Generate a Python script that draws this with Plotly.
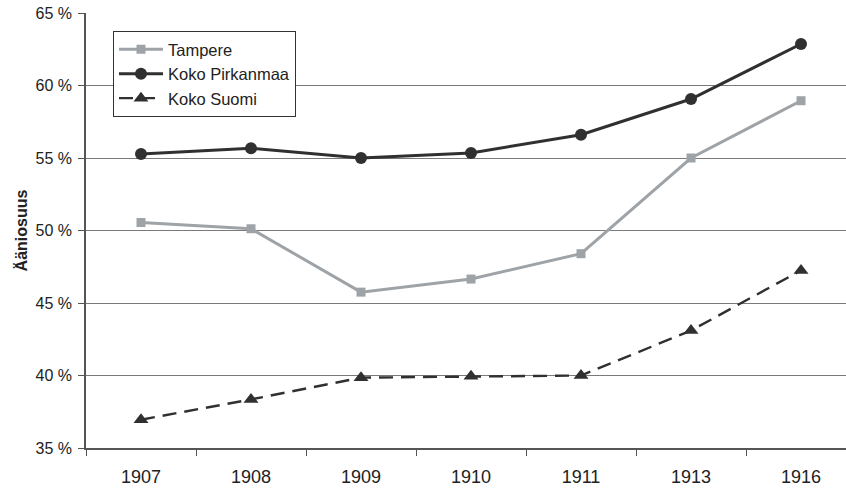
import plotly.graph_objects as go

years = ["1907", "1908", "1909", "1910", "1911", "1913", "1916"]
tampere = [50.55, 50.12, 45.75, 46.65, 48.4, 55.0, 58.95]
pirkanmaa = [55.28, 55.68, 55.0, 55.35, 56.6, 59.07, 62.86]
suomi = [36.95, 38.35, 39.85, 39.95, 40.0, 43.1, 47.25]
y_ticks = [35, 40, 45, 50, 55, 60, 65]
y_ticktext = [f"{v} %" for v in y_ticks]

FONT = "Liberation Sans, Arial, sans-serif"

fig = go.Figure()
fig.add_trace(go.Scatter(
    x=years, y=tampere, name="Tampere", mode="lines+markers",
    line=dict(color="#9ea3a8", width=3),
    marker=dict(symbol="square", size=9, color="#9ea3a8"),
))
fig.add_trace(go.Scatter(
    x=years, y=pirkanmaa, name="Koko Pirkanmaa", mode="lines+markers",
    line=dict(color="#303030", width=3),
    marker=dict(symbol="circle", size=12, color="#303030"),
))
fig.add_trace(go.Scatter(
    x=years, y=suomi, name="Koko Suomi", mode="lines+markers",
    line=dict(color="#303030", width=2.4, dash="14px,8px"),
    marker=dict(symbol="triangle-up", size=13, color="#303030"),
))

fig.update_layout(
    width=846, height=492,
    margin=dict(l=86, r=0, t=13, b=44, autoexpand=False),
    paper_bgcolor="white", plot_bgcolor="white",
    font=dict(family=FONT, size=16, color="#222222"),
    showlegend=True,
    legend=dict(
        x=0.0355, y=0.9586, xanchor="left", yanchor="top",
        bordercolor="#333333", borderwidth=1, bgcolor="white",
        font=dict(family=FONT, size=16.5, color="#222222"),
        itemwidth=44, tracegroupgap=0,
    ),
)
fig.update_xaxes(
    type="category", categoryorder="array", categoryarray=years,
    range=[-0.5, 6.409], automargin=False,
    showgrid=False, showline=True, linecolor="#555555", linewidth=1.5,
    ticks="outside", tickson="boundaries", ticklen=6, tickcolor="#555555",
    tickfont=dict(size=18, color="#222222"), ticklabelstandoff=12,
    zeroline=False,
)
fig.update_yaxes(
    range=[35, 65], tickvals=y_ticks, ticktext=y_ticktext, automargin=False,
    showgrid=True, gridcolor="#7a7a7a", gridwidth=1,
    showline=True, linecolor="#555555", linewidth=1.5,
    ticks="outside", ticklen=6, tickcolor="#555555",
    tickfont=dict(size=16, color="#222222"), ticklabelstandoff=3,
    ticklabeloverflow="allow",
    zeroline=False,
    title=dict(text="<b>Ääniosuus</b>", font=dict(size=16, color="#222222"), standoff=4),
)

fig.write_html(
    "out.html",
    config={"displayModeBar": False},
    post_script="document.body.style.margin='0';",
)
